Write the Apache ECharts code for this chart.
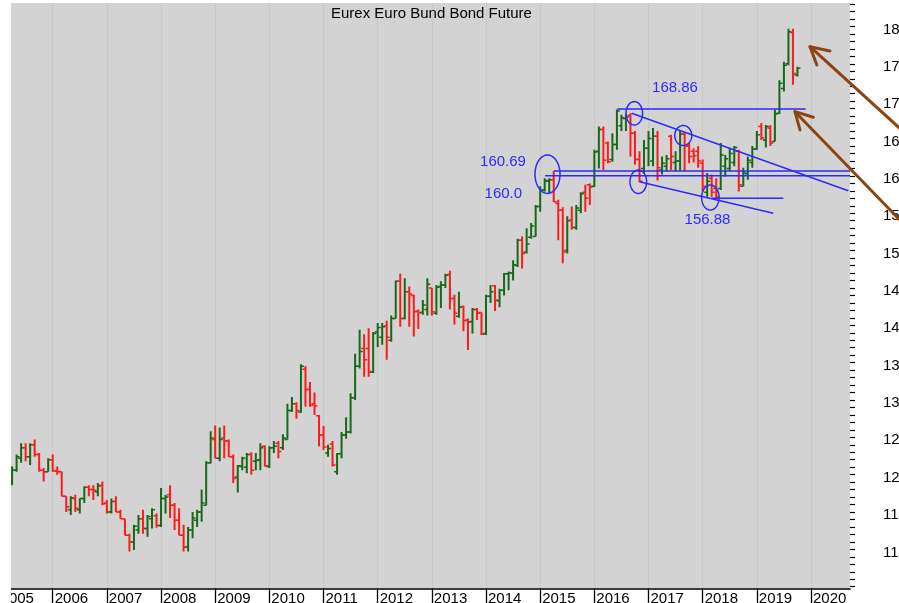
<!DOCTYPE html>
<html>
<head>
<meta charset="utf-8">
<script src="https://cdn.jsdelivr.net/npm/echarts@6/dist/echarts.min.js"></script>
<style>
html,body{margin:0;padding:0;background:#fff;}
#chart{width:899px;height:603px;}
</style>
</head>
<body>
<div id="chart"></div>
<script>
// ---- data (monthly bars, month index counted from January 2005) ----
const firstMonthIndex = 3; // April 2005
const opens = [118.9,120.6,122.2,123.6,122.4,124.0,122.7,120.6,120.4,122.0,120.5,120.4,117.1,115.3,116.8,115.3,116.8,118.3,118.0,117.7,118.6,116.2,115.0,116.4,115.0,114.1,111.9,111.0,112.6,114.1,112.8,114.1,114.5,113.2,116.8,117.3,115.9,113.9,111.9,110.3,112.6,113.9,115.0,115.9,121.6,124.7,122.2,124.9,124.5,122.4,119.7,121.1,121.0,122.7,121.8,122.0,123.8,121.1,123.6,124.2,123.6,124.7,128.6,129.5,128.4,134.1,131.4,129.5,127.9,125.3,122.9,124.1,120.4,122.8,125.3,125.7,130.3,134.5,136.9,136.9,133.7,139.1,138.4,139.9,138.0,140.9,145.9,140.9,144.5,144.0,141.9,141.7,142.1,145.0,141.6,145.2,145.4,146.8,143.6,141.2,142.5,140.7,140.5,142.1,141.7,138.9,143.9,145.3,143.3,144.7,146.9,147.0,148.0,151.4,149.8,151.8,151.9,155.9,158.1,159.3,159.5,156.3,155.4,150.0,154.1,153.1,155.4,157.8,158.8,158.6,163.3,166.2,164.4,162.2,164.2,166.7,167.7,168.1,165.7,162.2,161.0,163.7,162.0,165.3,160.8,161.3,165.3,161.8,162.0,165.6,164.0,163.3,163.3,161.7,157.8,159.7,158.3,158.3,161.3,161.0,161.8,163.3,158.6,160.3,161.8,163.6,166.6,164.8,166.4,164.6,168.4,171.7,175.0,179.2,173.5];
const highs = [121.1,122.7,124.2,124.2,124.2,124.7,122.9,120.9,122.2,122.7,121.1,120.4,117.1,117.1,117.3,116.8,118.4,118.6,118.6,118.9,119.1,116.6,116.8,117.1,115.3,114.1,112.1,113.3,114.6,115.3,114.6,115.5,114.8,118.2,117.3,118.6,116.2,115.5,113.3,113.0,115.0,115.3,118.0,121.8,125.8,126.6,126.3,126.6,124.7,122.7,121.3,122.4,122.9,123.0,122.9,124.2,123.9,123.8,124.5,124.5,125.4,129.5,130.4,129.7,134.8,134.5,132.4,131.0,128.0,126.5,124.0,124.5,122.9,125.7,127.7,130.9,136.2,139.4,138.8,139.6,139.1,140.3,140.3,140.6,141.3,146.0,146.9,146.3,145.2,144.1,142.1,143.4,146.3,145.0,145.4,145.9,146.9,147.3,144.1,144.5,142.6,140.9,142.3,142.3,141.7,144.1,145.4,145.4,144.9,147.0,147.2,148.7,151.6,151.9,153.0,153.7,156.1,158.6,159.7,159.7,160.69,156.8,155.8,154.6,155.9,156.1,157.8,158.8,159.0,163.5,166.6,166.6,164.6,165.7,168.9,168.2,168.3,168.4,166.0,163.3,164.8,166.0,166.4,166.0,162.6,162.8,165.5,163.3,166.0,165.8,164.4,163.7,164.0,162.2,160.4,160.2,159.7,164.4,162.8,163.7,164.0,163.5,161.1,162.6,164.0,166.0,167.1,166.8,166.8,168.9,172.8,175.3,179.7,179.7,174.6];
const lows = [118.6,120.4,121.6,121.8,121.3,122.4,120.4,119.1,120.4,120.4,120.0,117.1,115.0,114.6,115.0,114.8,116.2,117.1,116.6,117.1,115.9,114.8,114.8,115.0,114.1,111.9,109.7,109.9,112.1,112.1,111.7,112.8,112.9,113.0,114.8,114.2,112.6,111.9,109.7,109.7,111.5,113.0,113.7,115.9,121.5,122.2,121.8,122.2,122.4,118.9,117.6,120.6,120.2,120.0,120.6,120.6,121.1,120.9,122.9,122.2,123.3,124.7,128.4,127.5,128.3,129.1,129.1,128.0,123.8,123.3,122.4,121.1,120.0,122.2,124.8,125.5,130.0,134.2,133.1,133.1,133.6,137.1,137.4,135.4,137.8,140.9,139.8,140.8,139.8,138.5,139.5,141.4,141.3,141.3,141.4,142.3,145.0,142.1,140.1,141.0,139.2,136.7,138.9,140.7,138.7,138.7,143.0,141.9,142.4,144.0,144.7,146.0,147.8,147.6,149.6,151.6,151.9,155.2,157.9,157.7,156.5,151.4,148.3,149.6,152.8,152.8,155.0,155.2,156.1,158.5,161.0,160.8,161.7,161.9,163.5,166.0,166.0,162.6,161.5,159.2,160.4,161.3,161.3,159.4,160.2,160.6,160.8,160.6,160.7,160.6,161.7,161.8,161.1,157.9,157.2,157.2,157.0,158.1,159.9,160.6,161.3,157.9,158.6,159.5,161.1,163.5,164.8,163.8,164.0,164.6,168.3,171.3,174.8,172.2,173.3];
const closes = [120.6,122.4,123.6,122.4,124.0,122.7,120.6,120.4,122.0,120.5,120.4,117.1,115.7,116.9,115.5,116.8,118.3,118.0,117.9,118.5,116.1,115.0,116.4,115.0,114.1,111.9,111.0,113.1,114.1,112.8,114.4,115.3,113.2,116.8,117.0,115.9,113.9,111.9,110.3,112.6,114.2,115.0,116.2,121.6,124.9,122.2,124.7,124.5,122.4,119.5,121.2,122.2,122.7,120.6,121.9,123.6,121.2,123.6,123.8,123.1,124.9,128.6,129.5,128.6,134.5,131.4,129.3,129.2,125.3,123.7,123.5,121.3,122.8,125.3,125.7,130.3,134.5,136.5,135.4,133.8,138.9,139.7,139.8,138.4,140.9,145.9,140.9,144.5,144.2,141.8,141.7,142.7,145.5,141.8,145.1,145.4,146.7,143.6,141.6,142.4,140.6,140.4,142.1,141.6,138.8,143.9,144.5,143.4,144.7,146.9,147.0,148.1,151.4,149.6,150.9,153.3,155.9,158.1,159.4,159.5,156.55,155.4,149.8,154.0,153.1,155.7,157.6,157.0,158.5,163.2,166.2,162.1,161.9,164.2,168.7,167.8,167.9,165.7,162.2,159.3,163.7,165.0,165.3,161.1,161.7,162.3,162.6,162.0,165.6,164.0,162.6,162.7,162.0,158.6,159.3,157.8,157.2,162.8,162.3,163.0,163.8,158.8,160.4,162.1,163.6,165.5,165.1,166.6,164.4,168.3,172.4,174.8,179.3,173.7,174.4];

const yearTickMonths = [0,12,24,36,48,60,72,84,96,108,120,132,144,156,168,180];
const yearLabels = ['2005','2006','2007','2008','2009','2010','2011','2012','2013','2014','2015','2016','2017','2018','2019','2020'];
const priceTicks = [110,115,120,125,130,135,140,145,150,155,160,165,170,175,180];
const priceMinorTicks = [105,106,107,108,109,110,111,112,113,114,115,116,117,118,119,120,121,122,123,124,125,126,127,128,129,130,131,132,133,134,135,136,137,138,139,140,141,142,143,144,145,146,147,148,149,150,151,152,153,154,155,156,157,158,159,160,161,162,163,164,165,166,167,168,169,170,171,172,173,174,175,176,177,178,179,180,181,182,183];

// annotations, in (month index, price)
const trendLines = [
  [123.06,160.67,188.64,160.67],
  [121.07,160.03,188.64,160.03],
  [137.08,168.96,178.82,168.96],
  [140.27,168.38,188.26,158.02],
  [141.96,159.22,171.65,155.0],
  [158.0,157.0,173.86,157.0]
];
const circledPoints = [[121.62,160.23],[140.85,168.38],[151.7,165.41],[141.74,159.22],[157.7,157.11]];
const levelLabelPoints = [[111.76,161.9],[111.83,157.55],[149.87,171.73],[157.07,154.16]];
const levelLabelTexts = ['160.69','160.0','168.86','156.88'];
// arrow: tip, tail, wing1, wing2
const arrows = [
  [179.78,177.3, 208.6,161.46, 184.2,176.72, 181.3,174.85],
  [176.45,168.6, 213.0,145.8, 180.5,167.85, 177.56,166.15]
];

// ---- styles ----
const circleRadii = [[12.5,19.2],[8.3,11.7],[8.5,10],[8.3,11.7],[8.7,12.5]];
const GREEN = '#176817';
const RED = '#ff1a1a';
const BLUE = '#2b2bff';
const BROWN = '#8b4513';
const FONT = '"Liberation Sans", Arial, Helvetica, sans-serif';

const ohlc = opens.map((o, i) => [firstMonthIndex + i, o, highs[i], lows[i], closes[i]]);

const Y_MIN = 104.76, Y_MAX = 183.15, X_MAX = 188.64;

const chart = echarts.init(document.getElementById('chart'), null, {renderer: 'canvas'});

const option = {
  animation: false,
  backgroundColor: '#ffffff',
  title: {
    text: 'Eurex Euro Bund Bond Future',
    left: 326, top: 1,
    textStyle: {fontSize: 15, fontWeight: 'normal', color: '#000', fontFamily: FONT}
  },
  grid: {
    left: -1.46, right: 49, top: 3, bottom: 14.5,
    outerBoundsMode: 'none', containLabel: false,
    show: true, backgroundColor: '#d3d3d3', borderWidth: 0
  },
  xAxis: {
    type: 'value', min: 0, max: X_MAX, interval: 12,
    axisLine: {show: true, onZero: false, lineStyle: {color: '#000', width: 1.6}},
    axisTick: {show: true, length: 16, customValues: yearTickMonths, lineStyle: {color: '#000', width: 1.3}},
    axisLabel: {
      show: true, customValues: yearTickMonths, margin: 3, align: 'left', padding: [0,0,0,2],
      fontSize: 15, color: '#000', fontFamily: FONT,
      formatter: function (v) { const k = yearTickMonths.indexOf(Math.round(v)); return k >= 0 ? yearLabels[k] : ''; }
    },
    splitLine: {show: true, lineStyle: {color: '#bcbcbc', type: 'dotted', width: 1}}
  },
  yAxis: [
    {
      type: 'value', position: 'right', min: Y_MIN, max: Y_MAX,
      axisLine: {show: true, lineStyle: {color: '#000', width: 1.4}},
      axisTick: {show: true, length: 10, customValues: priceTicks, lineStyle: {color: '#000', width: 1.3}},
      axisLabel: {show: true, customValues: priceTicks, margin: 33, fontSize: 15, color: '#000',
        fontFamily: FONT, verticalAlign: 'middle',
        formatter: v => '{p|' + Math.round(v) + '}',
        rich: {p: {padding: [6, 0, 0, 0], fontSize: 15, color: '#000', fontFamily: FONT}}},
      splitLine: {show: false}
    },
    {
      type: 'value', position: 'right', min: Y_MIN, max: Y_MAX,
      axisLine: {show: false},
      axisTick: {show: true, length: 5, customValues: priceMinorTicks, lineStyle: {color: '#000', width: 1.2}},
      axisLabel: {show: false},
      splitLine: {show: false}
    }
  ],
  graphic: {
    elements: [
      {type: 'rect', left: 0, top: 0, z: 100, shape: {width: 11, height: 603}, style: {fill: '#ffffff'}}
    ]
  },
  series: [
    {
      type: 'custom', name: 'OHLC', clip: true, z: 3,
      encode: {x: 0, y: [1, 2, 3, 4]},
      data: ohlc,
      renderItem: function (params, api) {
        const t = api.value(0), o = api.value(1), h = api.value(2), l = api.value(3), c = api.value(4);
        const ph = api.coord([t, h]), pl = api.coord([t, l]), po = api.coord([t, o]), pc = api.coord([t, c]);
        const col = c >= o ? GREEN : RED;
        const x = ph[0];
        return {type: 'group', children: [
          {type: 'line', shape: {x1: x, y1: ph[1], x2: x, y2: pl[1]}, style: {stroke: col, lineWidth: 2}},
          {type: 'line', shape: {x1: x - 3, y1: po[1], x2: x, y2: po[1]}, style: {stroke: col, lineWidth: 1.5}},
          {type: 'line', shape: {x1: x, y1: pc[1], x2: x + 3, y2: pc[1]}, style: {stroke: col, lineWidth: 1.5}}
        ]};
      }
    },
    {
      type: 'custom', name: 'lines', clip: false, z: 5,
      data: trendLines,
      renderItem: function (params, api) {
        const a = api.coord([api.value(0), api.value(1)]);
        const b = api.coord([api.value(2), api.value(3)]);
        return {type: 'line', shape: {x1: a[0], y1: a[1], x2: b[0], y2: b[1]}, style: {stroke: BLUE, lineWidth: 1.5}};
      }
    },
    {
      type: 'custom', name: 'circles', clip: false, z: 5,
      data: circledPoints,
      renderItem: function (params, api) {
        const p = api.coord([api.value(0), api.value(1)]);
        const r = circleRadii[params.dataIndex];
        const pts = [];
        for (let k = 0; k < 72; k++) {
          const a = k / 72 * Math.PI * 2;
          pts.push([p[0] + r[0] * Math.cos(a), p[1] + r[1] * Math.sin(a)]);
        }
        return {type: 'polygon', shape: {points: pts}, style: {fill: 'none', stroke: BLUE, lineWidth: 1.5}};
      }
    },
    {
      type: 'custom', name: 'labels', clip: false, z: 6,
      data: levelLabelPoints,
      renderItem: function (params, api) {
        const p = api.coord([api.value(0), api.value(1)]);
        return {type: 'text', x: p[0], y: p[1], style: {text: levelLabelTexts[params.dataIndex], fill: BLUE,
          font: '15px ' + FONT, align: 'center', verticalAlign: 'middle'}};
      }
    },
    {
      type: 'custom', name: 'arrows', clip: false, z: 6,
      data: arrows,
      renderItem: function (params, api) {
        const tip = api.coord([api.value(0), api.value(1)]);
        const tail = api.coord([api.value(2), api.value(3)]);
        const w1 = api.coord([api.value(4), api.value(5)]);
        const w2 = api.coord([api.value(6), api.value(7)]);
        const st = {stroke: BROWN, lineWidth: 3, lineCap: 'round', lineJoin: 'round', fill: 'none'};
        return {type: 'group', children: [
          {type: 'line', shape: {x1: tail[0], y1: tail[1], x2: tip[0], y2: tip[1]}, style: st},
          {type: 'polyline', shape: {points: [w1, tip, w2]}, style: st}
        ]};
      }
    }
  ]
};
chart.setOption(option);
</script>
</body>
</html>
